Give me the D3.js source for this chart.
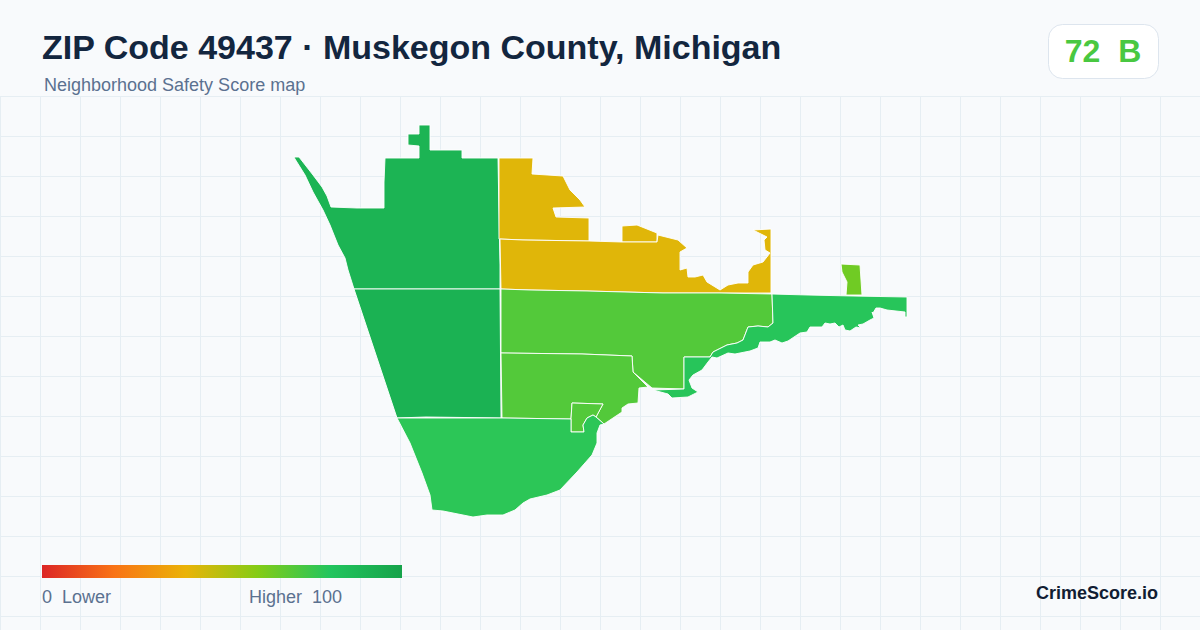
<!DOCTYPE html>
<html><head><meta charset="utf-8">
<script src="https://cdn.jsdelivr.net/npm/d3@7/dist/d3.min.js"></script>
<style>html,body{margin:0;padding:0;background:#f8fafc}svg{display:block}text{font-family:"Liberation Sans",Arial,sans-serif;white-space:pre}</style>
</head><body><svg id="c" width="1200" height="630"></svg>
<script>
const titleText = "ZIP Code 49437 · Muskegon County, Michigan";
const subtitleText = "Neighborhood Safety Score map";
const badgeText = "72  B";
const overallScore = 72;
const legendLow = "0  Lower";
const legendHigh = "Higher  100";
const brandText = "CrimeScore.io";
const legendStops = [0,20,40,60,80,100];
const legendColors = ["#dc2626","#f97316","#eab308","#84cc16","#22c55e","#16a34a"];

// tract boundaries in local map units, y pointing south
const tractNW = [[[4,37],[9,37],[16,46],[23,55],[32,67],[37,76],[41,87],[67,88],[94,88],[94,62],[95,38],[129,38],[129,26],[118,25],[118,14],[129,14],[129,5],[140,5],[140,30],[172,30],[172,38],[208,38],[209,95],[210,145],[210,169],[64,169],[58,150],[55,138],[48,125],[40,105],[33,90],[23,72],[15,55],[5,39]]];
const tractW = [[[64,169],[210,169],[211,298],[136,297],[107,298]]];
const tractN = [[[209,38],[243,38],[242,54],[273,56],[280,70],[290,80],[295,87],[263,88],[266,97],[299,98],[299,121],[233,120],[209,119]],[[332,106],[347,105],[367,113],[367,122],[332,122]]];
const tractLake = [[[210,119],[233,120],[299,121],[332,122],[367,122],[368,115],[380,118],[388,120],[397,128],[390,132],[390,150],[397,148],[398,157],[405,157],[413,155],[417,162],[430,170],[438,165],[448,163],[458,163],[458,152],[463,145],[473,142],[480,133],[475,130],[474,120],[477,117],[463,110],[481,109],[481,173],[430,173],[373,173],[297,171],[240,170],[211,169]]];
const tractMid = [[[211,169],[240,170],[297,171],[373,173],[430,173],[482,174],[483,203],[478,207],[468,206],[458,207],[453,220],[447,223],[437,225],[423,232],[420,237],[394,237],[394,269],[362,268],[343,252],[342,236],[292,234],[211,233]]];
const tractLow = [[[211,233],[292,234],[342,236],[343,252],[358,267],[349,268],[348,283],[338,284],[332,288],[332,292],[314,304],[306,297],[313,284],[282,283],[281,299],[212,298]]];
const tractNotch = [[[282,283],[313,284],[306,297],[303,295],[297,298],[293,305],[294,312],[281,312],[281,299]]];
const tractSouth = [[[107,298],[212,298],[281,299],[281,312],[294,312],[293,305],[297,298],[303,295],[306,297],[314,304],[310,305],[307,313],[307,323],[302,335],[287,352],[270,370],[257,375],[240,379],[233,383],[225,390],[213,395],[197,395],[183,397],[153,391],[142,390],[140,375],[132,353],[120,323]]];
const tractRiver = [[[482,174],[518,175],[563,176],[617,177],[617,197],[615,197],[615,192],[597,190],[590,188],[586,188],[583,193],[582,192],[584,198],[580,200],[573,204],[568,205],[571,208],[566,207],[560,211],[555,210],[553,205],[549,207],[545,203],[540,204],[535,203],[532,207],[520,207],[517,212],[510,213],[498,221],[492,223],[485,220],[480,222],[470,222],[468,228],[460,231],[445,234],[438,233],[427,238],[422,237],[418,242],[412,250],[403,255],[399,260],[402,268],[408,272],[402,275],[398,277],[382,278],[378,274],[363,270],[394,269],[394,237],[420,237],[423,232],[437,225],[447,223],[453,220],[458,207],[468,206],[478,207],[483,203]]];
const tractEast = [[[551,144],[570,145],[572,175],[556,175],[557,162],[552,152]]];

const tractRings = [tractNW,tractW,tractN,tractLake,tractMid,tractLow,tractNotch,tractSouth,tractRiver,tractEast];
const tractScores = [90,91,42,42,70,70,70,78,79,64];

const W = 1200, H = 630;
const svg = d3.select("#c");
const color = d3.scaleLinear().domain(legendStops).range(legendColors).clamp(true);

// background + grid
svg.append("rect").attr("width",W).attr("height",H).attr("fill","#f8fafc");
const gridX = d3.range(0,W,40), gridY = d3.range(96,H,40);
const grid = svg.append("g").attr("stroke","#e6eef3").attr("stroke-width",1).attr("shape-rendering","crispEdges");
grid.selectAll(".v").data(gridX).join("line").attr("x1",d=>d+.5).attr("x2",d=>d+.5).attr("y1",96).attr("y2",H);
grid.selectAll(".h").data(gridY).join("line").attr("x1",0).attr("x2",W).attr("y1",d=>d+.5).attr("y2",d=>d+.5);

// map (GeoJSON rings are closed from the open vertex lists above)
const closeRing = r => r.concat([r[0]]);
const features = tractRings.map((rings,i)=>({type:"Feature",properties:{score:tractScores[i]},geometry:{type:"MultiPolygon",coordinates:rings.map(r=>[closeRing(r)])}}));
const projection = d3.geoIdentity().fitExtent([[294,125],[907,517]],{type:"FeatureCollection",features});
const path = d3.geoPath(projection);
svg.append("g").selectAll("path").data(features).join("path")
  .attr("d",path).attr("fill",d=>color(d.properties.score))
  .attr("stroke","#ffffff").attr("stroke-width",1).attr("stroke-opacity",.9).attr("stroke-linejoin","round");

// header
svg.append("text").attr("x",42).attr("y",59).attr("font-size",34).attr("font-weight",700).attr("fill","#13263f").text(titleText);
svg.append("text").attr("x",44).attr("y",91).attr("font-size",18).attr("fill","#5b7190").text(subtitleText);
svg.append("rect").attr("x",1048.5).attr("y",24.5).attr("width",110).attr("height",54).attr("rx",14).attr("fill","#ffffff").attr("stroke","#dde5ee");
svg.append("text").attr("x",1103).attr("y",62).attr("text-anchor","middle").attr("font-size",32).attr("font-weight",700).attr("fill",color(overallScore)).text(badgeText);

// legend
const defs = svg.append("defs");
const grad = defs.append("linearGradient").attr("id","lg");
grad.selectAll("stop").data(legendStops).join("stop").attr("offset",d=>d+"%").attr("stop-color",d=>color(d));
const legendX = d3.scaleLinear().domain([0,100]).range([42,402]);
svg.append("rect").attr("x",legendX(0)).attr("y",565).attr("width",legendX(100)-legendX(0)).attr("height",13).attr("fill","url(#lg)");
svg.append("text").attr("x",42).attr("y",603).attr("font-size",18).attr("fill","#5b7190").text(legendLow);
svg.append("text").attr("x",249).attr("y",603).attr("font-size",18).attr("fill","#5b7190").text(legendHigh);
svg.append("text").attr("x",1158).attr("y",599).attr("text-anchor","end").attr("font-size",18).attr("font-weight",700).attr("fill","#111d33").text(brandText);
</script></body></html>
